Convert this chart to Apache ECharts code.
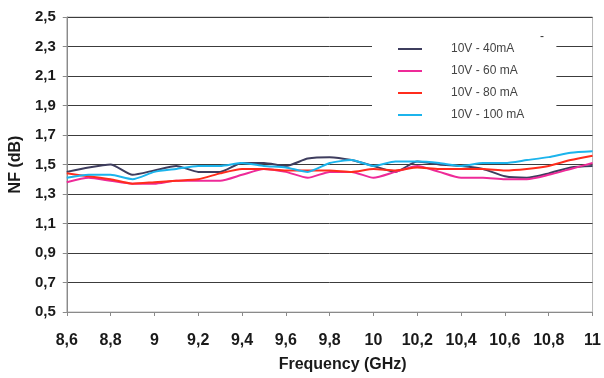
<!DOCTYPE html>
<html>
<head>
<meta charset="utf-8">
<script src="https://cdn.jsdelivr.net/npm/echarts@6/dist/echarts.min.js"></script>
<style>
  html, body { margin: 0; padding: 0; background: #fff; }
  #chart { width: 604px; height: 378px; }
</style>
</head>
<body>
<div id="chart"></div>
<script>
// frequency points (GHz)
const freq = [8.6, 8.7, 8.8, 8.9, 9.0, 9.1, 9.2, 9.3, 9.4, 9.5, 9.6, 9.7, 9.8,
  9.9, 10.0, 10.1, 10.2, 10.3, 10.4, 10.5, 10.6, 10.7, 10.8, 10.9, 11.0];

const names = ['10V - 40mA', '10V - 60 mA', '10V - 80 mA', '10V - 100 mA'];
const colors = ['#3e3d5e', '#ee2a98', '#ff2c1c', '#1cb4ec'];

// NF (dB) per bias point
const nf40 = [1.45, 1.48, 1.50, 1.43, 1.46, 1.49, 1.45, 1.45, 1.51, 1.51, 1.49, 1.54, 1.55,
  1.53, 1.49, 1.45, 1.52, 1.50, 1.49, 1.47, 1.42, 1.41, 1.44, 1.48, 1.49];
const nf60 = [1.38, 1.41, 1.39, 1.37, 1.37, 1.39, 1.39, 1.39, 1.43, 1.47, 1.45, 1.41, 1.45,
  1.45, 1.41, 1.45, 1.49, 1.45, 1.41, 1.41, 1.40, 1.40, 1.43, 1.47, 1.51];
const nf80 = [1.44, 1.42, 1.40, 1.37, 1.38, 1.39, 1.40, 1.44, 1.47, 1.47, 1.46, 1.46, 1.46,
  1.45, 1.47, 1.46, 1.48, 1.47, 1.47, 1.47, 1.46, 1.47, 1.49, 1.53, 1.56];
const nf100 = [1.41, 1.43, 1.43, 1.40, 1.45, 1.47, 1.49, 1.49, 1.51, 1.49, 1.48, 1.45, 1.51,
  1.53, 1.49, 1.52, 1.52, 1.51, 1.49, 1.51, 1.51, 1.53, 1.55, 1.58, 1.59];

const allSeries = [nf40, nf60, nf80, nf100];

const fmt = (v) => String(Math.round(v * 10) / 10).replace('.', ',');
const font = 'Liberation Sans, Arial, sans-serif';

const chart = echarts.init(document.getElementById('chart'));

const option = {
  animation: false,
  backgroundColor: '#fff',
  grid: {
    left: 65,
    right: 7,
    top: 17,
    bottom: 63,
    show: true,
    borderColor: '#b8b8b8',
    borderWidth: 1,
  },
  legend: {
    orient: 'vertical',
    left: 372,
    top: 34,
    data: names,
    icon: 'rect',
    itemWidth: 24,
    itemHeight: 2,
    itemGap: 8,
    backgroundColor: '#fff',
    padding: [8, 32, 8, 26],
    textStyle: {
      fontFamily: font,
      fontSize: 12,
      lineHeight: 14,
      color: '#444',
      padding: [0, 0, 0, 24],
    },
  },
  graphic: [
    {
      type: 'text',
      left: 540,
      top: 31,
      z: 100,
      style: {text: '-', fill: '#333', font: '12px Liberation Sans'},
    },
  ],
  xAxis: {
    type: 'value',
    min: 8.6,
    max: 11,
    interval: 0.2,
    name: 'Frequency (GHz)',
    nameLocation: 'middle',
    nameGap: 45,
    nameTextStyle: {fontFamily: font, fontWeight: 'bold', fontSize: 16, color: '#1a1a1a', padding: [0, 0, 0, 26]},
    axisLine: {lineStyle: {color: '#8a8a8a', width: 1}},
    axisTick: {show: true, length: 4, lineStyle: {color: '#8a8a8a'}},
    axisLabel: {fontFamily: font, fontWeight: 'bold', fontSize: 16, color: '#1a1a1a', margin: 21, formatter: fmt},
    splitLine: {show: false},
  },
  yAxis: {
    type: 'value',
    min: 0.5,
    max: 2.5,
    interval: 0.2,
    name: 'NF (dB)',
    nameLocation: 'middle',
    nameGap: 42,
    nameRotate: 90,
    nameTextStyle: {fontFamily: font, fontWeight: 'bold', fontSize: 16, color: '#1a1a1a'},
    axisLine: {show: true, lineStyle: {color: '#8a8a8a', width: 1}},
    axisTick: {show: true, length: 4, lineStyle: {color: '#8a8a8a'}},
    axisLabel: {fontFamily: font, fontWeight: 'bold', fontSize: 15, color: '#1a1a1a', margin: 11, formatter: fmt},
    splitLine: {show: true, lineStyle: {color: '#3c3c3c', width: 1}},
  },
  series: allSeries.map((vals, i) => ({
    name: names[i],
    type: 'line',
    showSymbol: false,
    smooth: 0.2,
    color: colors[i],
    lineStyle: {width: 2, color: colors[i]},
    data: freq.map((f, k) => [f, vals[k]]),
  })),
};

chart.setOption(option);
</script>
</body>
</html>
